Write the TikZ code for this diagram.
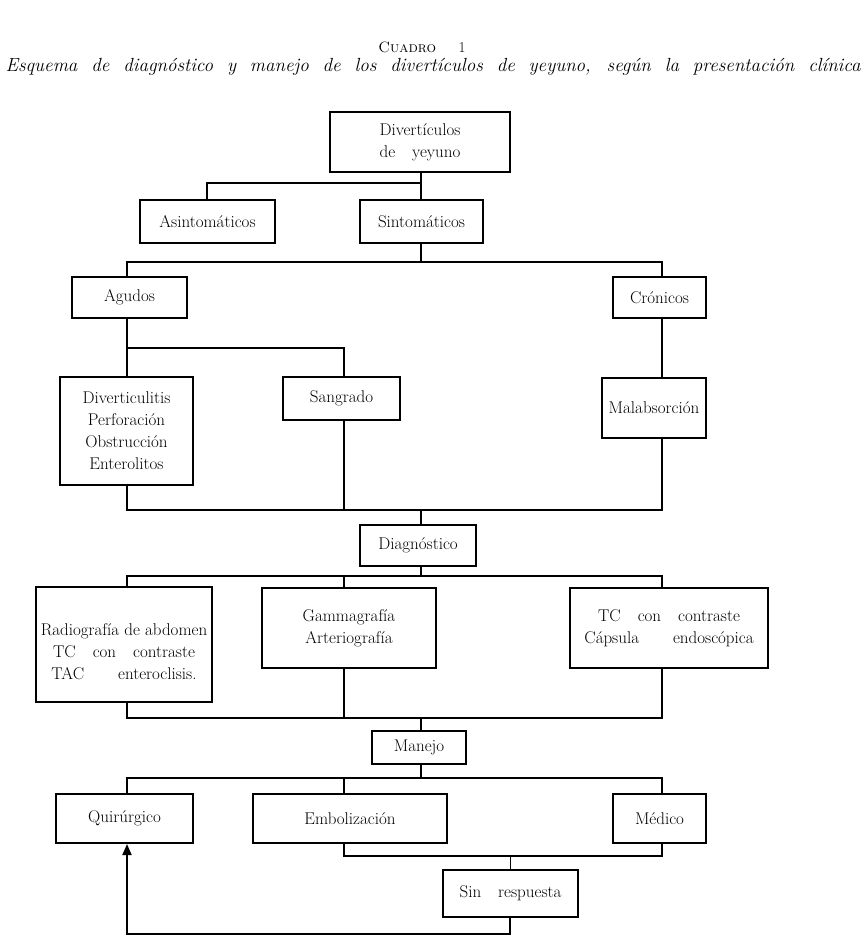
\documentclass[tikz,border=0pt]{standalone}
\usepackage{fontspec}
\usetikzlibrary{arrows.meta}
\newcommand{\boxfont}{\fontsize{17}{22}\selectfont\addfontfeatures{LetterSpace=12}}
\tikzset{
  box/.style={draw, line width=2pt, inner sep=0pt, align=center, font=\boxfont},
  conn/.style={line width=1.8pt},
  thinconn/.style={line width=0.9pt},
}
\begin{document}
\begin{tikzpicture}[x=1pt,y=-1pt]
\useasboundingbox (0,0) rectangle (866,950);
% titles
\node (cuadro) at (422,47) {\fontsize{15}{17}\selectfont\addfontfeatures{LetterSpace=8}\textsc{Cuadro}\quad\enspace 1};
\node (subtitle) at (433,67) {\fontsize{19}{22}\selectfont\itshape\addfontfeatures{LetterSpace=6}\makebox[855pt][s]{Esquema de diagnóstico y manejo de los divertículos de yeyuno, según la presentación clínica}};
% boxes
\node[box, minimum width=180pt, minimum height=60pt] (top) at (420,142) {Divertículos\\de\quad yeyuno};
\node[box, minimum width=135pt, minimum height=43pt] (asin) at (207.5,221.5) {Asintomáticos};
\node[box, minimum width=123pt, minimum height=43pt] (sint) at (421.5,221.5) {Sintomáticos};
\node[box, minimum width=115pt, minimum height=41pt] (agudos) at (129.5,297.5) {Agudos};
\node[box, minimum width=93pt, minimum height=41pt] (cron) at (659.5,297.5) {Crónicos};
\node[box, minimum width=133pt, minimum height=108pt] (divert) at (126.5,431) {Diverticulitis\\Perforación\\Obstrucción\\Enterolitos};
\node[box, minimum width=117pt, minimum height=43pt] (sang) at (341.5,398.5) {Sangrado};
\node[box, minimum width=104pt, minimum height=60pt] (malab) at (654,408) {Malabsorción};
\node[box, minimum width=116pt, minimum height=41pt] (diag) at (418,545.5) {Diagnóstico};
\node[box, minimum width=176pt, minimum height=115pt] (radio) at (124,644.5) {\rule{0pt}{26pt}Radiografía de abdomen\\TC\quad con\quad contraste\\TAC\qquad enteroclisis.};
\node[box, minimum width=174pt, minimum height=80pt] (gamma) at (349,628) {Gammagrafía\\Arteriografía};
\node[box, minimum width=198pt, minimum height=80pt] (tc) at (669,628) {TC\quad con\quad contraste\\Cápsula\qquad endoscópica};
\node[box, minimum width=94pt, minimum height=33pt] (manejo) at (419,747.5) {Manejo};
\node[box, minimum width=137pt, minimum height=49pt] (quir) at (124.5,818.5) {Quirúrgico};
\node[box, minimum width=194pt, minimum height=49pt] (embo) at (350,818.5) {Embolización};
\node[box, minimum width=93pt, minimum height=49pt] (medico) at (659.5,818.5) {Médico};
\node[box, minimum width=135pt, minimum height=47pt] (sin) at (510.5,893.5) {Sin\quad respuesta};
% bus coordinates
\coordinate (xA) at (207,0);
\coordinate (xL) at (127,0);
\coordinate (xC) at (421,0);
\coordinate (xM) at (344,0);
\coordinate (xR) at (662,0);
\coordinate (xS) at (510,0);
\coordinate (b1) at (0,183);
\coordinate (b2) at (0,262);
\coordinate (b3) at (0,348);
\coordinate (b4) at (0,510);
\coordinate (b5) at (0,576);
\coordinate (b6) at (0,718);
\coordinate (b7) at (0,778);
\coordinate (b8) at (0,856);
\coordinate (b9) at (0,934);
% connectors
\draw[conn] (xC|-top.south) -- (xC|-b1) -| (xA|-asin.north);
\draw[conn] (xC|-b1) -- (xC|-sint.north);
\draw[conn] (xC|-sint.south) -- (xC|-b2);
\draw[conn] (xL|-agudos.north) |- (xC|-b2) -| (xR|-cron.north);
\draw[conn] (xL|-agudos.south) -- (xL|-divert.north);
\draw[conn] (xL|-b3) -| (xM|-sang.north);
\draw[conn] (xR|-cron.south) -- (xR|-malab.north);
\draw[conn] (xL|-divert.south) |- (xR|-b4) -- (xR|-malab.south);
\draw[conn] (xM|-sang.south) -- (xM|-b4);
\draw[conn] (xC|-b4) -- (xC|-diag.north);
\draw[conn] (xC|-diag.south) -- (xC|-b5);
\draw[conn] (xL|-radio.north) |- (xR|-b5) -- (xR|-tc.north);
\draw[conn] (xM|-b5) -- (xM|-gamma.north);
\draw[conn] (xL|-radio.south) |- (xR|-b6) -- (xR|-tc.south);
\draw[conn] (xM|-gamma.south) -- (xM|-b6);
\draw[conn] (xC|-b6) -- (xC|-manejo.north);
\draw[conn] (xC|-manejo.south) -- (xC|-b7);
\draw[conn] (xL|-quir.north) |- (xR|-b7) -- (xR|-medico.north);
\draw[conn] (xM|-b7) -- (xM|-embo.north);
\draw[conn] (xM|-embo.south) |- (xR|-b8) -- (xR|-medico.south);
\draw[thinconn] (xS|-b8) -- (xS|-sin.north);
\draw[conn, -{Triangle[width=9pt,length=11pt]}] (xS|-sin.south) |- (xL|-b9) -- (xL|-quir.south);
\end{tikzpicture}
\end{document}
